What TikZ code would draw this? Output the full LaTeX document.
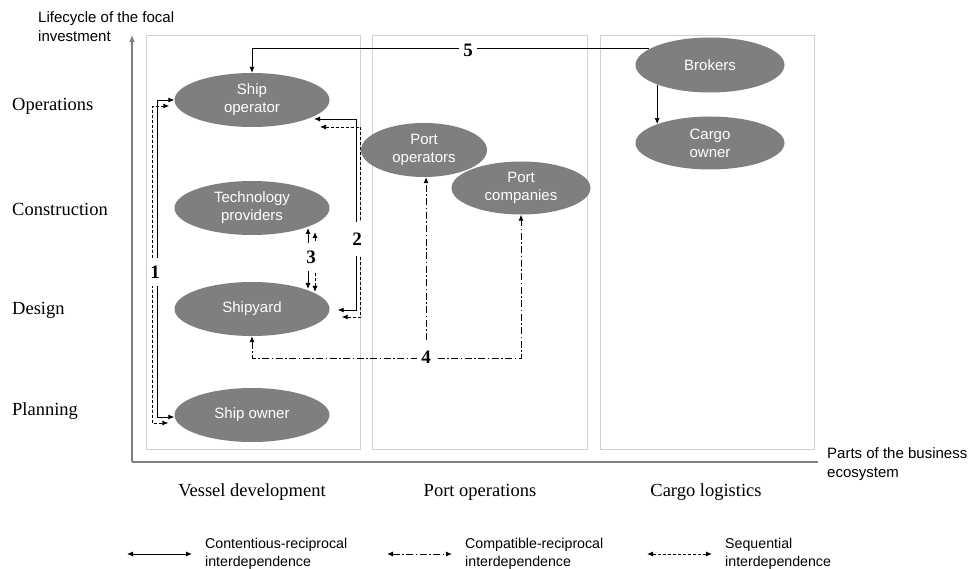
\documentclass[tikz,border=0pt]{standalone}
\usepackage{fontspec}
\setmainfont{Liberation Serif}
\setsansfont{Liberation Sans}
\usetikzlibrary{shapes.geometric,arrows.meta,calc}
\definecolor{nodegray}{RGB}{127,127,127}
\definecolor{panelgray}{RGB}{208,208,208}
\definecolor{axisgray}{RGB}{128,128,128}
\begin{document}
\begin{tikzpicture}[x=1pt,y=-1pt,
  actor/.style={ellipse, fill=nodegray, draw=none, text=white,
    font=\sffamily\fontsize{15}{18}\selectfont, align=center, inner sep=0pt,
    minimum width=155pt, minimum height=54pt},
  panel/.style={draw=panelgray, line width=0.8pt},
  axisline/.style={draw=axisgray, line width=1.1pt},
  tipend/.style={-{Latex[length=6pt,width=5pt]}},
  bothends/.style={{Latex[length=6pt,width=5pt]}-{Latex[length=6pt,width=5pt]}},
  conn/.style={line width=0.9pt, draw=black},
  seq/.style={conn, dash pattern=on 3pt off 2pt},
  compat/.style={conn, dash pattern=on 7pt off 2.5pt on 1.5pt off 2.5pt},
  numlabel/.style={fill=white, font=\bfseries\fontsize{19}{20}\selectfont,
    inner sep=0pt, minimum width=15pt, minimum height=28pt},
  rowlabel/.style={anchor=west, font=\fontsize{18.5}{20}\selectfont, inner sep=0pt},
  collabel/.style={font=\fontsize{18.5}{20}\selectfont, inner sep=0pt},
  axislabel/.style={anchor=west, align=left, font=\sffamily\fontsize{15}{19}\selectfont, inner sep=0pt},
  legendtext/.style={anchor=west, align=left, font=\sffamily\fontsize{14.2}{18}\selectfont, inner sep=0pt}
]
\useasboundingbox (0,0) rectangle (972,569);

% panels
\draw[panel] (146,35) rectangle (360,449);
\draw[panel] (372,35) rectangle (587,449);
\draw[panel] (600,35) rectangle (814,449);

% axes
\draw[axisline, -{Latex[length=7pt,width=6pt]}] (132,462) -- (132,35);
\draw[axisline] (132,462) -- (818,462);
\node[axislabel] (ylab) at (38,27) {Lifecycle of the focal\\investment};
\node[axislabel] (xlab) at (827,464) {Parts of the business\\ecosystem};

% row labels
\node[rowlabel] (rop) at (12,106) {Operations};
\node[rowlabel] (rco) at (12,209) {Construction};
\node[rowlabel] (rde) at (12,310) {Design};
\node[rowlabel] (rpl) at (12,411) {Planning};

% column labels
\node[collabel] (cve) at (252,492) {Vessel development};
\node[collabel] (cpo) at (480,492) {Port operations};
\node[collabel] (ccl) at (706,492) {Cargo logistics};

% actors
\node[actor] (so) at (252,100) {Ship\\operator};
\node[actor] (tp) at (252,208) {Technology\\providers};
\node[actor] (sy) at (252,309) {Shipyard};
\node[actor] (sw) at (252,415) {Ship owner};
\node[actor, minimum width=126pt] (po) at (424,150) {Port\\operators};
\node[actor, minimum width=139pt, minimum height=53pt] (pc) at (521,188) {Port\\companies};
\node[actor, minimum width=149pt, minimum height=55pt] (br) at (710,65) {Brokers};
\node[actor, minimum width=149pt, minimum height=53pt] (co) at (710,143) {Cargo\\owner};

% 1
\draw[conn, bothends] (so.west) -- ++(-17,0) |- ($(sw.west)+(0,2)$);
\draw[seq, bothends] ($(so.west)+(-5,6)$) -- ($(so.west)+(-22,6)$) |- ($(sw.west)+(-6,8)$);
\node[numlabel] (n1) at (155,272) {1};

% 2
\draw[conn, bothends] ($(so.center)+(62,19)$) -| ($(sy.east)+(27,1)$) -- ($(sy.east)+(8,1)$);
\draw[seq, bothends] ($(so.center)+(68,27)$) -| ($(sy.east)+(31,8)$) -- ($(sy.east)+(12,8)$);
\node[numlabel, minimum height=34pt] (n2) at (357,239) {2};

% 3
\draw[conn, bothends] ($(tp.center)+(56,20)$) -- ($(sy.center)+(56,-20)$);
\draw[seq, bothends] ($(tp.center)+(63,24)$) -- ($(sy.center)+(63,-17)$);
\node[numlabel, minimum width=18pt] (n3) at (311,257) {3};

% 4
\coordinate (j4) at ($(sy.south)+(0,22.5)$);
\draw[compat, bothends] (sy.south) -- (j4) -| (pc.south);
\node[numlabel, minimum width=18pt, minimum height=22pt] (n4) at ($(po.south |- j4)+(2,-1)$) {4};
\draw[compat, tipend] ($(n4.north)+(0,-6)$) -- (n4.north |- po.south);

% 5
\draw[conn, tipend] (br.165) -| (so.north);
\node[numlabel, minimum width=18pt, minimum height=18pt] (n5) at (468,50) {5};

% brokers -> cargo owner
\draw[conn, tipend] (br.south west) -- (co.north west);

% legend
\coordinate (l1a) at (127,554); \coordinate (l1b) at (192,554);
\coordinate (l2a) at (387,554); \coordinate (l2b) at (452,554);
\coordinate (l3a) at (647,554); \coordinate (l3b) at (712,554);
\draw[conn, bothends] (l1a) -- (l1b);
\draw[compat, bothends] (l2a) -- (l2b);
\draw[seq, bothends] (l3a) -- (l3b);
\node[legendtext] (t1) at (205,554) {Contentious-reciprocal\\interdependence};
\node[legendtext] (t2) at (465,554) {Compatible-reciprocal\\interdependence};
\node[legendtext] (t3) at (725,554) {Sequential\\interdependence};
\end{tikzpicture}
\end{document}
